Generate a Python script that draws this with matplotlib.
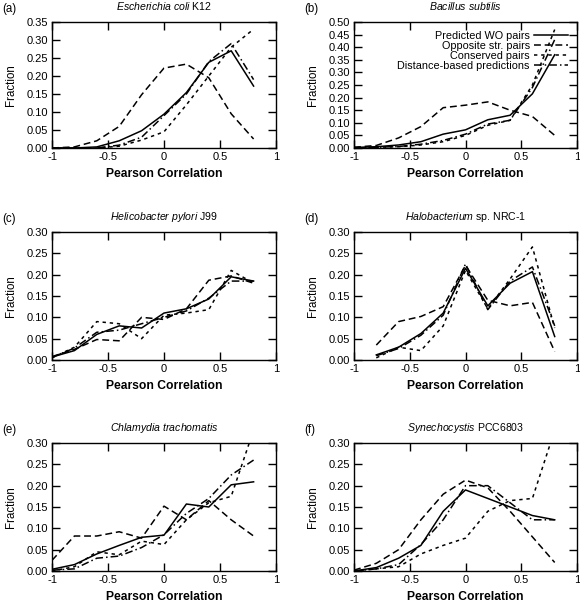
import matplotlib
matplotlib.use("Agg")
import matplotlib.pyplot as plt
import numpy as np

plt.rcParams["font.family"] = ["Liberation Sans", "DejaVu Sans"]
plt.rcParams["mathtext.fontset"] = "custom"
plt.rcParams["mathtext.it"] = "Liberation Sans:italic"
plt.rcParams["mathtext.rm"] = "Liberation Sans"

x_full = [-1.0, -0.8, -0.6, -0.4, -0.2, 0.0, 0.2, 0.4, 0.6, 0.8]

SERIES = ("Predicted WO pairs", "Opposite str. pairs", "Conserved pairs", "Distance-based predictions")

# (a) Escherichia coli K12
a_predicted = [0.0, 0.0, 0.003, 0.02, 0.048, 0.094, 0.154, 0.238, 0.27, 0.172]
a_opposite = [0.0, 0.003, 0.02, 0.06, 0.148, 0.222, 0.233, 0.195, 0.095, 0.025]
a_conserved = [0.0, 0.0, 0.0, 0.005, 0.022, 0.045, 0.12, 0.2, 0.28, 0.33]
a_distance = [0.0, 0.0, 0.0, 0.008, 0.03, 0.09, 0.15, 0.24, 0.29, 0.19]

# (b) Bacillus subtilis
b_predicted = [0.002, 0.005, 0.012, 0.025, 0.055, 0.072, 0.112, 0.13, 0.215, 0.37]
b_opposite = [0.003, 0.01, 0.04, 0.085, 0.16, 0.17, 0.183, 0.15, 0.125, 0.05]
b_conserved = [0.0, 0.003, 0.005, 0.012, 0.025, 0.05, 0.09, 0.11, 0.25, 0.47]
b_distance = [0.0, 0.003, 0.006, 0.015, 0.03, 0.055, 0.095, 0.11, 0.24, 0.43]

# (c) Helicobacter pylori J99
c_predicted = [0.007, 0.022, 0.06, 0.08, 0.075, 0.11, 0.12, 0.143, 0.195, 0.185]
c_opposite = [0.008, 0.025, 0.048, 0.045, 0.1, 0.095, 0.12, 0.187, 0.197, 0.18]
c_conserved = [0.005, 0.03, 0.09, 0.085, 0.05, 0.105, 0.11, 0.118, 0.21, 0.18]
c_distance = [0.006, 0.028, 0.065, 0.07, 0.085, 0.1, 0.115, 0.145, 0.185, 0.185]

# (d) Halobacterium sp. NRC-1 (starts at -0.8)
d_x = x_full[1:]
d_predicted = [0.012, 0.03, 0.062, 0.11, 0.215, 0.127, 0.18, 0.207, 0.055]
d_opposite = [0.035, 0.09, 0.102, 0.125, 0.222, 0.14, 0.127, 0.135, 0.02]
d_conserved = [0.005, 0.03, 0.022, 0.08, 0.21, 0.12, 0.19, 0.265, 0.075]
d_distance = [0.01, 0.027, 0.058, 0.105, 0.225, 0.118, 0.185, 0.218, 0.08]

# (e) Chlamydia trachomatis
e_predicted = [0.004, 0.015, 0.04, 0.06, 0.079, 0.084, 0.157, 0.15, 0.202, 0.209]
e_opposite = [0.025, 0.082, 0.082, 0.092, 0.077, 0.152, 0.12, 0.165, 0.12, 0.082]
e_conserved = [0.0, 0.01, 0.045, 0.038, 0.07, 0.062, 0.12, 0.16, 0.175, 0.33]
e_distance = [0.002, 0.005, 0.03, 0.035, 0.055, 0.085, 0.135, 0.17, 0.225, 0.26]

# (f) Synechocystis PCC6803
f_predicted = [0.0, 0.008, 0.03, 0.06, 0.14, 0.19, 0.17, 0.15, 0.13, 0.12]
f_opposite = [0.002, 0.018, 0.05, 0.12, 0.18, 0.213, 0.195, 0.14, 0.08, 0.02]
f_conserved = [0.0, 0.005, 0.01, 0.04, 0.06, 0.077, 0.14, 0.165, 0.17, 0.33]
f_distance = [0.0, 0.005, 0.015, 0.062, 0.12, 0.2, 0.2, 0.16, 0.12, 0.12]

panels = [
    ("(a)", r"$\mathit{Escherichia\ coli}$ K12", x_full, (a_predicted, a_opposite, a_conserved, a_distance), 0.35),
    ("(b)", r"$\mathit{Bacillus\ subtilis}$", x_full, (b_predicted, b_opposite, b_conserved, b_distance), 0.50),
    ("(c)", r"$\mathit{Helicobacter\ pylori}$ J99", x_full, (c_predicted, c_opposite, c_conserved, c_distance), 0.30),
    ("(d)", r"$\mathit{Halobacterium}$ sp. NRC-1", d_x, (d_predicted, d_opposite, d_conserved, d_distance), 0.30),
    ("(e)", r"$\mathit{Chlamydia\ trachomatis}$", x_full, (e_predicted, e_opposite, e_conserved, e_distance), 0.30),
    ("(f)", r"$\mathit{Synechocystis}$ PCC6803", x_full, (f_predicted, f_opposite, f_conserved, f_distance), 0.30),
]

styles = [
    dict(linestyle="-"),
    dict(dashes=(4.5, 2.5)),
    dict(dashes=(2.2, 2.5)),
    dict(dashes=(5, 2, 1, 2)),
]

W, H = 580, 603
left_cols = (52, 354)
right_cols = (276, 577)
rows = ((22, 148), (232, 360), (443, 571))

fig = plt.figure(figsize=(W / 100, H / 100), dpi=100)

for i, (tag, title, xs, series, ymax) in enumerate(panels):
    r, c = divmod(i, 2)
    x0, x1 = left_cols[c], right_cols[c]
    y0, y1 = rows[r]
    ax = fig.add_axes([x0 / W, 1 - y1 / H, (x1 - x0) / W, (y1 - y0) / H])
    for name, ys, st in zip(SERIES, series, styles):
        ax.plot(xs, ys, color="black", linewidth=1.1, label=name, **st)
    ax.set_xlim(-1, 1)
    ax.set_ylim(0, ymax)
    ax.set_xticks([-1, -0.5, 0, 0.5, 1])
    ax.set_xticklabels(["-1", "-0.5", "0", "0.5", "1"])
    ax.set_yticks(np.arange(0, ymax + 0.001, 0.05))
    ax.yaxis.set_major_formatter(matplotlib.ticker.FormatStrFormatter("%.2f"))
    ax.tick_params(direction="in", top=True, right=True, length=6, width=1.0,
                   labelsize=8, pad=3)
    for sp in ax.spines.values():
        sp.set_linewidth(1.0)
    ax.set_xlabel("Pearson Correlation", fontsize=8.7, fontweight="bold", labelpad=4)
    ax.set_ylabel("Fraction", fontsize=8.3, labelpad=7)
    ax.set_title(title, fontsize=7.6, pad=8.5)
    fig.text((x0 - 50) / W, 1 - 9 / H - (y0 - 22) / H, tag, fontsize=8.3, va="center", ha="left")
    if i == 1:
        ax.legend(loc="upper right", frameon=False, markerfirst=False, fontsize=7.8,
                  handlelength=3.1, labelspacing=0.0, borderaxespad=0.45,
                  handletextpad=0.4)

fig.savefig("out.png", dpi=100)
